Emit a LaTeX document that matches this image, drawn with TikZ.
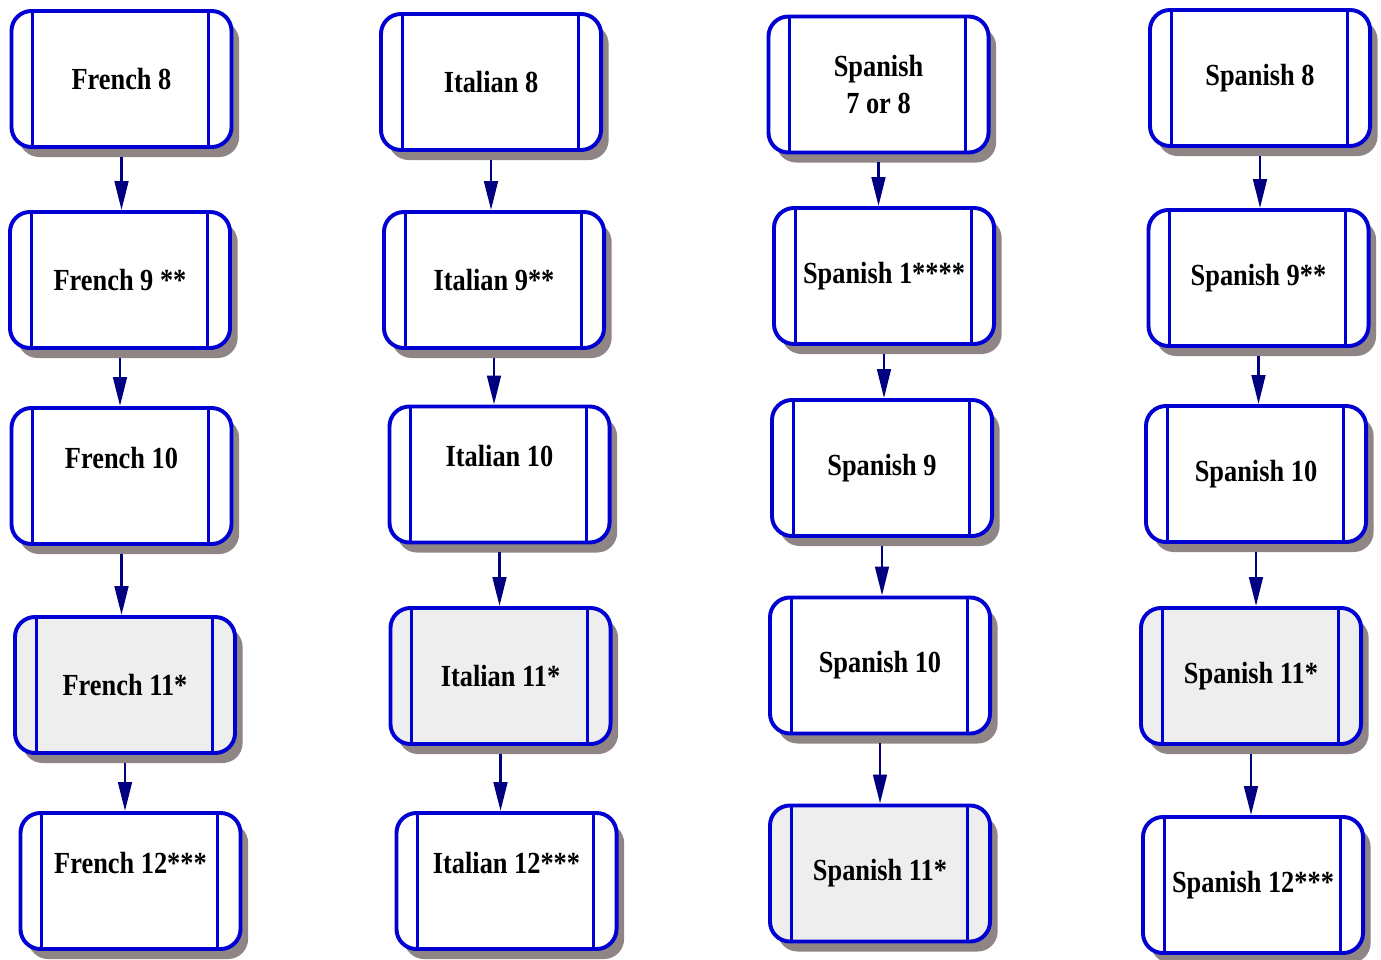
\documentclass[tikz,border=0pt]{standalone}
\usepackage{fontspec}
\newfontfamily\coursefont[FakeStretch=0.86]{Liberation Serif}
\usetikzlibrary{shadows,arrows.meta}
\definecolor{boxblue}{RGB}{0,0,210}
\definecolor{arrownavy}{RGB}{0,0,128}
\definecolor{shadowgray}{RGB}{143,133,133}
\definecolor{lightfill}{RGB}{238,238,238}

\begin{document}
\begin{tikzpicture}[x=0.025cm,y=-0.025cm,
    course/.style={draw=boxblue, line width=2.8pt, rounded corners=0.5cm, fill=white,
        minimum width=5.5cm, minimum height=3.4cm, align=center, inner sep=0pt,
        font=\coursefont\bfseries\fontsize{21.8pt}{26.3pt}\selectfont,
        drop shadow={shadow xshift=0.19cm, shadow yshift=-0.25cm, fill=shadowgray, opacity=1},
        path picture={
            \draw[boxblue, line width=2.3pt]
            ([xshift=0.53cm]path picture bounding box.north west) -- ([xshift=0.53cm]path picture bounding box.south west)
            ([xshift=-0.57cm]path picture bounding box.north east) -- ([xshift=-0.57cm]path picture bounding box.south east);
        }},
    upper/.style={fill=lightfill},
    link/.style={draw=arrownavy, line width=1.8pt, shorten <=0.2cm, -{Triangle[length=0.72cm, width=0.34cm]}}]
        \useasboundingbox (0,0) rectangle (1381,960);

        % French
        \node[course] (fr1) at (121.5,79) {French 8};
        \node[course] (fr2) at (120,280) {French 9 **};
        \node[course] (fr3) at (121.5,476) {French 10\\\mbox{}};
        \node[course,upper] (fr4) at (125,685) {French 11*};
        \node[course] (fr5) at (130.5,881) {French 12***\\\mbox{}};

        % Italian
        \node[course] (it1) at (491,82) {Italian 8};
        \node[course] (it2) at (494,280) {Italian 9**};
        \node[course] (it3) at (499.5,474.5) {Italian 10\\\mbox{}};
        \node[course,upper] (it4) at (500.5,676) {Italian 11*};
        \node[course] (it5) at (506.5,881) {Italian 12***\\\mbox{}};

        % Spanish from 7 or 8
        \node[course] (sa1) at (878.5,84.5) {Spanish\\7 or 8};
        \node[course] (sa2) at (884,276) {Spanish 1****};
        \node[course] (sa3) at (882,468) {Spanish 9};
        \node[course] (sa4) at (880,665.5) {Spanish 10};
        \node[course,upper] (sa5) at (880,873.5) {Spanish 11*};

        % Spanish from 8
        \node[course] (sp1) at (1260,78) {Spanish 8};
        \node[course] (sp2) at (1258.5,278) {Spanish 9**};
        \node[course] (sp3) at (1256,474) {Spanish 10};
        \node[course,upper] (sp4) at (1251,676) {Spanish 11*};
        \node[course] (sp5) at (1253,885) {Spanish 12***};

        \foreach \c in {fr,it,sa,sp}
            \foreach \i/\j in {1/2,2/3,3/4,4/5}
                \draw[link] (\c\i.south) -- (\c\i.south |- \c\j.north);
    \end{tikzpicture}
\end{document}
